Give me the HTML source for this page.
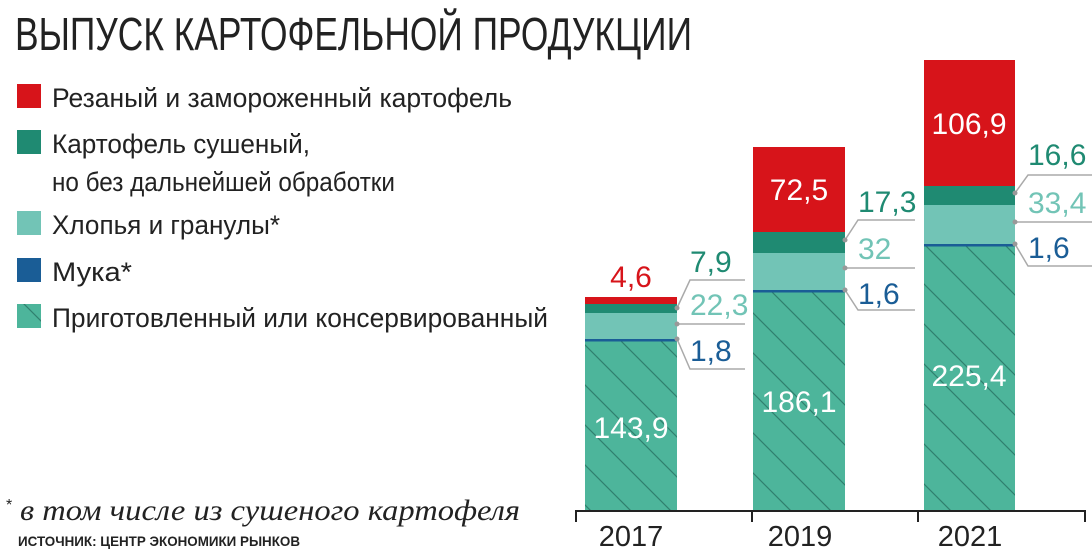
<!DOCTYPE html>
<html><head><meta charset="utf-8"><style>
body{margin:0;background:#fff}
svg{display:block}
</style></head><body>
<svg width="1092" height="559" viewBox="0 0 1092 559" xmlns="http://www.w3.org/2000/svg" style="font-family:'Liberation Sans Narrow','Liberation Sans',sans-serif">
<defs>
<pattern id="h" patternUnits="userSpaceOnUse" width="40" height="40">
<rect width="40" height="40" fill="#4db59b"/>
<path d="M-10,-10 L50,50 M-10,30 L10,50 M30,-10 L50,10" stroke="#2f7f6e" stroke-width="1.2"/>
</pattern>
</defs>
<text x="15" y="50" font-size="46" fill="#222" textLength="677" lengthAdjust="spacingAndGlyphs">ВЫПУСК КАРТОФЕЛЬНОЙ ПРОДУКЦИИ</text>
<g font-size="27" fill="#222">
<rect x="17" y="84" width="24" height="24" fill="#d7141a"/>
<text x="52" y="107" textLength="460" lengthAdjust="spacingAndGlyphs">Резаный и замороженный картофель</text>
<rect x="17" y="130" width="24" height="24" fill="#1f8a72"/>
<text x="52" y="153" textLength="258" lengthAdjust="spacingAndGlyphs">Картофель сушеный,</text>
<text x="52" y="191" textLength="343" lengthAdjust="spacingAndGlyphs">но без дальнейшей обработки</text>
<rect x="17" y="211" width="24" height="24" fill="#72c4b6"/>
<text x="52" y="234" textLength="228" lengthAdjust="spacingAndGlyphs">Хлопья и гранулы*</text>
<rect x="17" y="258" width="24" height="24" fill="#1a5d96"/>
<text x="52" y="281" textLength="80" lengthAdjust="spacingAndGlyphs">Мука*</text>
<rect x="17" y="304" width="24" height="24" fill="url(#h)"/>
<text x="52" y="327" textLength="496" lengthAdjust="spacingAndGlyphs">Приготовленный или консервированный</text>
</g>
<text x="6" y="510" font-size="16" fill="#222">*</text>
<text x="20" y="520" font-size="30" fill="#222" style="font-family:'Liberation Serif',serif;font-style:italic" textLength="500" lengthAdjust="spacingAndGlyphs">в том числе из сушеного картофеля</text>
<text x="18" y="546" font-size="14" font-weight="bold" fill="#222" textLength="282" lengthAdjust="spacingAndGlyphs">ИСТОЧНИК: ЦЕНТР ЭКОНОМИКИ РЫНКОВ</text>

<rect x="585" y="341" width="92" height="170" fill="url(#h)"/>
<rect x="585" y="313" width="92" height="27" fill="#72c4b6"/>
<rect x="585" y="304" width="92" height="9" fill="#1f8a72"/>
<rect x="585" y="297" width="92" height="7" fill="#d7141a"/>
<rect x="585" y="339" width="92" height="2.5" fill="#1a5d96"/>
<rect x="753" y="292" width="92" height="219" fill="url(#h)"/>
<rect x="753" y="253" width="92" height="38" fill="#72c4b6"/>
<rect x="753" y="232" width="92" height="21" fill="#1f8a72"/>
<rect x="753" y="147" width="92" height="85" fill="#d7141a"/>
<rect x="753" y="290" width="92" height="2.5" fill="#1a5d96"/>
<rect x="924" y="246" width="91" height="265" fill="url(#h)"/>
<rect x="924" y="205" width="91" height="40" fill="#72c4b6"/>
<rect x="924" y="186" width="91" height="19" fill="#1f8a72"/>
<rect x="924" y="60" width="91" height="126" fill="#d7141a"/>
<rect x="924" y="244" width="91" height="2.5" fill="#1a5d96"/>

<g stroke="#aaa" stroke-width="1.5" fill="none">
<path d="M677,308 L690,280 H745 M677,324 H745 M677,339 L690,369 H745"/>
<path d="M845,240 L858,220 H915 M845,268 H915 M845,290 L858,310 H915"/>
<path d="M1015,193 L1028,175 H1092 M1015,222 H1092 M1015,244 L1028,266 H1092"/>
</g>
<g fill="#999"><circle cx="677" cy="308" r="2.5"/><circle cx="677" cy="324" r="2.5"/><circle cx="677" cy="339" r="2.5"/>
<circle cx="845" cy="240" r="2.5"/><circle cx="845" cy="268" r="2.5"/><circle cx="845" cy="290" r="2.5"/>
<circle cx="1015" cy="193" r="2.5"/><circle cx="1015" cy="222" r="2.5"/><circle cx="1015" cy="244" r="2.5"/></g>

<g font-size="30">
<text x="631" y="287" fill="#d7141a" text-anchor="middle">4,6</text>
<text x="690" y="272" fill="#1f8a72">7,9</text>
<text x="690" y="315" fill="#72c4b6">22,3</text>
<text x="690" y="361" fill="#1a5d96">1,8</text>
<text x="631" y="438" fill="#fff" text-anchor="middle">143,9</text>
<text x="799" y="200" fill="#fff" text-anchor="middle">72,5</text>
<text x="858" y="212" fill="#1f8a72">17,3</text>
<text x="858" y="259" fill="#72c4b6">32</text>
<text x="858" y="304" fill="#1a5d96">1,6</text>
<text x="799" y="412" fill="#fff" text-anchor="middle">186,1</text>
<text x="969" y="134" fill="#fff" text-anchor="middle">106,9</text>
<text x="1028" y="165" fill="#1f8a72">16,6</text>
<text x="1028" y="213" fill="#72c4b6">33,4</text>
<text x="1028" y="258" fill="#1a5d96">1,6</text>
<text x="969" y="386" fill="#fff" text-anchor="middle">225,4</text>
</g>
<path d="M576,522 V511 H1085 V522 M752,511 V522 M918,511 V522" stroke="#222" stroke-width="2" fill="none"/>
<g font-size="29" fill="#222" text-anchor="middle">
<text x="631" y="546">2017</text><text x="800" y="546">2019</text><text x="970" y="546">2021</text>
</g>
</svg>
</body></html>
